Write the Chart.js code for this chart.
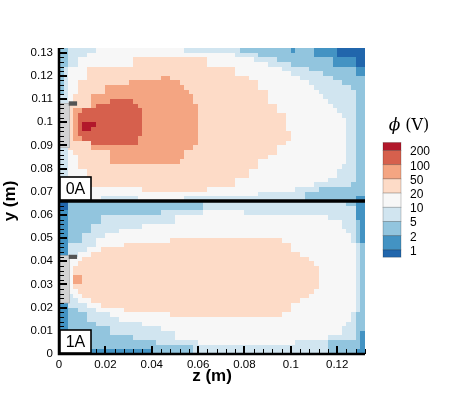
<!DOCTYPE html>
<html>
<head>
<meta charset="utf-8">
<script src="https://cdn.jsdelivr.net/npm/chart.js@4.4.1/dist/chart.umd.min.js"></script>
<style>
  html, body { margin: 0; padding: 0; background: #ffffff; }
  #wrap { width: 449px; height: 399px; }
</style>
</head>
<body>
<div id="wrap"><canvas id="phiChart" width="449" height="399"></canvas></div>
<script>
// grid: 66 x 66 cells of 0.002 m, z from 0 to 0.132, y from 0 to 0.132
const cellSize = 0.002;
const nCols = 66;
const zMax = 0.132;
const yMax = 0.132;
const splitY = 0.066; // case 0A above, case 1A below

// contour bands (index 0 = below 1 V ... 8 = above 200 V)
const levelColors = ['#2166ac', '#4393c3', '#92c5de', '#d1e5f0', '#f7f7f7', '#fddbc7', '#f4a582', '#d6604d', '#b2182b'];
const legendLabels = ['200', '100', '50', '20', '10', '5', '2', '1'];

// each row: "startCol:band" runs, top row first
const rows0A = [
  '0:2 2:3 8:4 27:3 39:2 50:1 51:2 55:1 60:0',
  '0:2 2:3 6:4 38:3 43:2 55:1 60:0',
  '0:2 2:3 4:4 16:5 32:4 42:3 47:2 59:1 64:0',
  '0:2 2:3 4:4 16:5 32:4 45:3 50:2 59:1 64:0',
  '0:2 1:3 2:4 6:5 38:4 48:3 54:2 64:1',
  '0:2 1:3 2:4 6:5 38:4 50:3 57:2 64:1',
  '0:2 1:3 2:4 6:5 22:6 24:5 41:4 52:3 59:2',
  '0:2 1:3 2:4 4:5 15:6 26:5 43:4 54:3 61:2',
  '0:2 1:3 2:4 4:5 10:6 27:5 43:4 55:3 63:2',
  '0:2 1:3 2:4 4:5 10:6 28:5 45:4 56:3 64:2',
  '0:3 2:4 3:5 7:6 29:5 45:4 57:3 64:2',
  '0:3 2:4 3:5 7:6 11:7 16:6 29:5 45:4 58:3 64:2',
  '0:3 2:5 7:6 8:7 17:6 30:5 47:4 59:3 64:2',
  '0:3 2:5 3:6 5:7 18:6 30:5 47:4 60:3 64:2',
  '0:3 2:5 3:6 4:7 18:6 30:5 49:4 61:3 64:2',
  '0:3 2:5 3:6 4:7 18:6 30:5 49:4 62:3 64:2',
  '0:3 2:5 3:6 4:7 5:8 8:7 18:6 30:5 49:4 62:3 64:2',
  '0:3 2:5 3:6 4:7 5:8 7:7 18:6 30:5 49:4 62:3 64:2',
  '0:3 2:5 3:6 4:7 18:6 30:5 50:4 62:3 64:2',
  '0:3 2:5 3:6 5:7 17:6 30:5 50:4 62:3 64:2',
  '0:3 2:5 7:7 17:6 30:5 49:4 62:3 64:2',
  '0:3 2:5 7:6 29:5 47:4 62:3 64:2',
  '0:3 2:4 3:5 11:6 27:5 47:4 62:3 64:2',
  '0:3 2:4 4:5 11:6 27:5 45:4 62:3 64:2',
  '0:3 2:4 4:5 11:6 26:5 43:4 62:3 64:2',
  '0:3 2:4 4:5 43:4 61:3 64:2',
  '0:3 2:4 6:5 41:4 60:3 64:2',
  '0:3 2:4 6:5 41:4 60:3 64:2',
  '0:3 2:4 7:5 38:4 58:3 64:2',
  '0:3 2:4 7:5 38:4 55:3 63:2',
  '0:3 2:4 18:5 32:4 51:3 56:2',
  '0:3 2:4 43:3 53:2',
  '0:3 2:4 9:3 17:4 27:3 53:2 64:1'
];

const rows1A = [
  '0:0 2:2 31:3 62:2 64:1',
  '0:0 2:2 31:3 64:1',
  '0:1 2:2 22:3 31:4 40:3 64:1',
  '0:1 2:2 9:3 25:4 58:3 64:1',
  '0:1 2:2 9:3 25:4 61:3 64:2 65:1',
  '0:1 2:2 7:3 18:4 61:3 64:2 65:1',
  '0:1 2:2 7:3 13:4 62:3 64:2 65:1',
  '0:1 2:2 5:3 10:4 63:3 64:2 65:1',
  '0:1 2:2 5:3 8:4 24:5 48:4 63:3 64:2 65:1',
  '0:1 2:3 8:4 14:5 50:4 64:3 65:2',
  '0:1 2:3 6:4 9:5 50:4 64:3 65:2',
  '0:1 2:3 4:4 7:5 52:4 64:3 65:2',
  '0:2 2:4 5:5 54:4 64:3 65:2',
  '0:2 2:4 4:5 55:4 64:3 65:2',
  '0:2 2:4 3:5 56:4 64:3 65:2',
  '0:2 2:4 3:5 56:4 64:3 65:2',
  '0:2 2:4 3:6 5:5 56:4 64:3 65:2',
  '0:2 2:4 3:6 5:5 56:4 64:3 65:2',
  '0:2 2:4 3:5 56:4 64:3 65:2',
  '0:2 2:4 4:5 55:4 64:3 65:2',
  '0:2 2:3 3:4 5:5 54:4 64:3 65:2',
  '0:2 2:3 4:4 7:5 52:4 64:3 65:2',
  '0:1 2:3 6:4 9:5 50:4 64:3 65:2',
  '0:1 2:2 4:3 8:4 14:5 50:4 64:3 65:2',
  '0:1 2:2 6:3 11:4 24:5 48:4 63:3 64:2',
  '0:1 2:2 6:3 13:4 63:3 64:2',
  '0:1 2:2 8:3 18:4 62:3 64:2',
  '0:1 2:2 11:3 22:4 61:3 64:2',
  '0:1 2:2 11:3 25:4 61:3 64:2 65:1',
  '0:1 2:2 16:3 25:4 58:3 64:2 65:1',
  '0:1 2:2 21:3 30:4 51:3 58:2 65:1',
  '0:1 2:2 29:3 58:2 65:1',
  '0:1 20:2 29:3 58:2 64:1'
];

// probe geometry (grey) for each case, metres
const panelNames = ['0A', '1A'];
const panelBottoms = [splitY, 0];
const probeBodyZ = [0.0003, 0.0045];
const probeBodyY = [[0.089, 0.108], [0.022, 0.0425]];
const probeCapZ = [0.0042, 0.0078];
const probeCapY = [[0.1071, 0.109], [0.041, 0.0428]];

// axes
const xTickValues = [0, 0.02, 0.04, 0.06, 0.08, 0.1, 0.12];
const xTickLabels = ['0', '0.02', '0.04', '0.06', '0.08', '0.1', '0.12'];
const yTickValues = [0, 0.01, 0.02, 0.03, 0.04, 0.05, 0.06, 0.07, 0.08, 0.09, 0.1, 0.11, 0.12, 0.13];
const yTickLabels = ['0', '0.01', '0.02', '0.03', '0.04', '0.05', '0.06', '0.07', '0.08', '0.09', '0.1', '0.11', '0.12', '0.13'];
const xMinorStep = 0.004;
const yMinorStep = 0.002;

const sans = '"Liberation Sans", Arial, Helvetica, sans-serif';

function expandRow(spec) {
  const runs = spec.split(' ').map((p) => p.split(':').map(Number));
  const out = [];
  let k = 0;
  for (let c = 0; c < nCols; c++) {
    while (k + 1 < runs.length && runs[k + 1][0] <= c) k++;
    out.push(runs[k][1]);
  }
  return out;
}

// one point per cell, drawn as a rectangle through the scales
const cells = [];
[[rows0A, yMax], [rows1A, splitY]].forEach(([rows, yTop]) => {
  rows.forEach((spec, r) => {
    expandRow(spec).forEach((band, c) => {
      cells.push({ x: (c + 0.5) * cellSize, y: yTop - (r + 0.5) * cellSize, v: band });
    });
  });
});

const fieldPlugin = {
  id: 'field',
  beforeDatasetsDraw(chart) {
    const { ctx } = chart;
    const xs = chart.scales.x;
    const ys = chart.scales.y;
    const half = cellSize / 2;
    ctx.save();
    chart.data.datasets[0].data.forEach((p) => {
      const x0 = Math.round(xs.getPixelForValue(p.x - half));
      const x1 = Math.round(xs.getPixelForValue(p.x + half));
      const y0 = Math.round(ys.getPixelForValue(p.y + half));
      const y1 = Math.round(ys.getPixelForValue(p.y - half));
      ctx.fillStyle = levelColors[p.v];
      ctx.fillRect(x0, y0, x1 - x0, y1 - y0);
    });
    ctx.restore();
  }
};

const decorPlugin = {
  id: 'decor',
  afterDraw(chart) {
    const { ctx, chartArea: area } = chart;
    const xs = chart.scales.x;
    const ys = chart.scales.y;
    ctx.save();

    // probes
    panelNames.forEach((name, i) => {
      const bx0 = xs.getPixelForValue(probeBodyZ[0]);
      const bx1 = xs.getPixelForValue(probeBodyZ[1]);
      const by0 = ys.getPixelForValue(probeBodyY[i][1]);
      const by1 = ys.getPixelForValue(probeBodyY[i][0]);
      ctx.fillStyle = '#d2d2d2';
      ctx.fillRect(bx0, by0, bx1 - bx0, by1 - by0);
      ctx.strokeStyle = '#a9a9a9';
      ctx.lineWidth = 0.7;
      ctx.strokeRect(bx0, by0, bx1 - bx0, by1 - by0);
      const cx0 = xs.getPixelForValue(probeCapZ[0]);
      const cx1 = xs.getPixelForValue(probeCapZ[1]);
      const cy0 = ys.getPixelForValue(probeCapY[i][1]);
      const cy1 = ys.getPixelForValue(probeCapY[i][0]);
      ctx.fillStyle = '#545454';
      ctx.fillRect(cx0, cy0, cx1 - cx0, cy1 - cy0);
    });

    // divider between the two cases
    const ySplit = ys.getPixelForValue(splitY);
    ctx.strokeStyle = '#000';
    ctx.lineWidth = 3.5;
    ctx.beginPath();
    ctx.moveTo(area.left, ySplit);
    ctx.lineTo(area.right, ySplit);
    ctx.stroke();

    // inward ticks
    ctx.lineWidth = 1;
    for (let v = 0; v <= yMax + 1e-9; v += yMinorStep) {
      const py = Math.round(ys.getPixelForValue(v)) + 0.5;
      ctx.beginPath();
      ctx.moveTo(area.left, py);
      ctx.lineTo(area.left + 5, py);
      ctx.stroke();
    }
    for (let v = 0; v <= zMax + 1e-9; v += xMinorStep) {
      const px = Math.round(xs.getPixelForValue(v)) + 0.5;
      ctx.beginPath();
      ctx.moveTo(px, area.bottom);
      ctx.lineTo(px, area.bottom - 5);
      ctx.stroke();
    }
    ctx.lineWidth = 2;
    yTickValues.forEach((v) => {
      const py = Math.round(ys.getPixelForValue(v));
      ctx.beginPath();
      ctx.moveTo(area.left, py);
      ctx.lineTo(area.left + 8, py);
      ctx.stroke();
    });
    xTickValues.forEach((v) => {
      const px = Math.round(xs.getPixelForValue(v));
      ctx.beginPath();
      ctx.moveTo(px, area.bottom);
      ctx.lineTo(px, area.bottom - 8);
      ctx.stroke();
    });

    // axis lines
    ctx.lineWidth = 2.5;
    ctx.beginPath();
    ctx.moveTo(area.left, area.top);
    ctx.lineTo(area.left, area.bottom);
    ctx.lineTo(area.right, area.bottom);
    ctx.stroke();

    // case labels
    panelNames.forEach((name, i) => {
      const left = xs.getPixelForValue(0) + 1;
      const bottom = ys.getPixelForValue(panelBottoms[i]) - 1;
      const w = 31;
      const h = 23;
      ctx.fillStyle = '#fff';
      ctx.fillRect(left, bottom - h, w, h);
      ctx.strokeStyle = '#000';
      ctx.lineWidth = 1.6;
      ctx.strokeRect(left, bottom - h, w, h);
      ctx.fillStyle = '#000';
      ctx.font = '16px ' + sans;
      ctx.textAlign = 'center';
      ctx.textBaseline = 'middle';
      ctx.fillText(name, left + w / 2, bottom - h / 2 + 1);
    });

    // colour bar
    const barLeft = area.right + 18;
    const barW = 18;
    const barTop = 142.5;
    const endH = 8;
    const step = 14.2;
    for (let i = 0; i < levelColors.length; i++) {
      const band = levelColors.length - 1 - i;
      let top;
      let h;
      if (i === 0) {
        top = barTop;
        h = endH;
      } else {
        top = barTop + endH + (i - 1) * step;
        h = i === levelColors.length - 1 ? 7.3 : step;
      }
      ctx.fillStyle = levelColors[band];
      ctx.fillRect(barLeft, top, barW, h);
      ctx.strokeStyle = 'rgba(0,0,0,0.25)';
      ctx.lineWidth = 0.8;
      ctx.strokeRect(barLeft, top, barW, h);
    }
    ctx.fillStyle = '#000';
    ctx.font = '12px ' + sans;
    ctx.textAlign = 'left';
    ctx.textBaseline = 'middle';
    legendLabels.forEach((lab, i) => {
      ctx.fillText(lab, barLeft + 27, barTop + endH + i * step + 1.5);
    });

    // colour bar title: phi (V)
    const phi = '\u03D5';
    const rest = ' (V)';
    ctx.font = 'italic 17px "DejaVu Serif", "Liberation Serif", serif';
    const w1 = ctx.measureText(phi).width;
    ctx.font = '16px "DejaVu Serif", "Liberation Serif", serif';
    const w2 = ctx.measureText(rest).width;
    const tx = barLeft + 26 - (w1 + w2) / 2;
    ctx.textBaseline = 'alphabetic';
    ctx.font = 'italic 17px "DejaVu Serif", "Liberation Serif", serif';
    ctx.fillText(phi, tx, 130);
    ctx.font = '16px "DejaVu Serif", "Liberation Serif", serif';
    ctx.fillText(rest, tx + w1, 130);

    ctx.restore();
  }
};

const ctx = document.getElementById('phiChart').getContext('2d');
new Chart(ctx, {
  type: 'scatter',
  data: {
    datasets: [
      {
        label: 'phi',
        data: cells,
        pointRadius: 0,
        pointHoverRadius: 0,
        showLine: false
      }
    ]
  },
  options: {
    responsive: false,
    animation: false,
    devicePixelRatio: 1,
    events: [],
    layout: { padding: { top: 48, right: 84, left: 0, bottom: 0 } },
    plugins: {
      legend: { display: false },
      tooltip: { enabled: false }
    },
    scales: {
      x: {
        type: 'linear',
        min: 0,
        max: zMax,
        grid: { display: false, drawTicks: false },
        border: { display: false },
        afterBuildTicks: (scale) => {
          scale.ticks = xTickValues.map((v) => ({ value: v }));
        },
        afterFit: (scale) => {
          scale.height = 45;
        },
        ticks: {
          callback: (value, index) => xTickLabels[index],
          color: '#000',
          font: { family: sans, size: 11.5 },
          padding: 4,
          maxRotation: 0,
          autoSkip: false
        },
        title: {
          display: true,
          text: 'z (m)',
          color: '#000',
          font: { family: sans, size: 17, weight: 'bold' },
          padding: { top: 0, bottom: 12 }
        }
      },
      y: {
        type: 'linear',
        min: 0,
        max: yMax,
        grid: { display: false, drawTicks: false },
        border: { display: false },
        afterBuildTicks: (scale) => {
          scale.ticks = yTickValues.map((v) => ({ value: v }));
        },
        afterFit: (scale) => {
          scale.width = 59;
        },
        ticks: {
          callback: (value, index) => yTickLabels[index],
          color: '#000',
          font: { family: sans, size: 11.5 },
          padding: 6,
          autoSkip: false
        },
        title: {
          display: true,
          text: 'y (m)',
          color: '#000',
          font: { family: sans, size: 17, weight: 'bold' },
          padding: { top: 0, bottom: 0 }
        }
      }
    }
  },
  plugins: [fieldPlugin, decorPlugin]
});
</script>
</body>
</html>
